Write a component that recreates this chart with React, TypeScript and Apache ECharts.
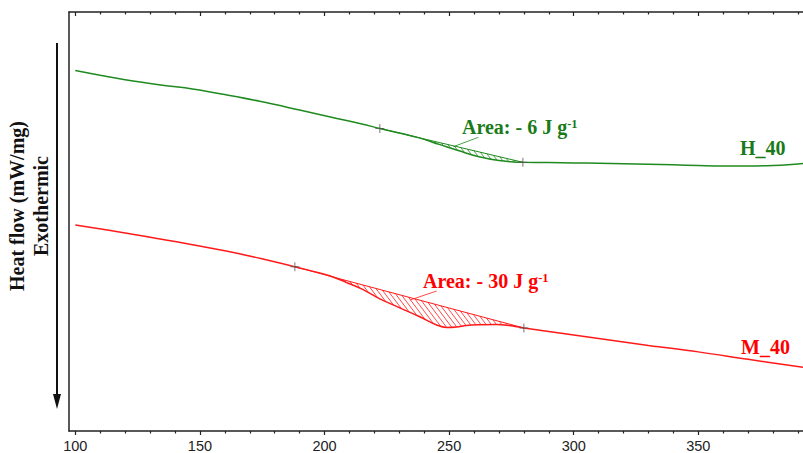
import React, { useEffect, useRef } from 'react';
import * as echarts from 'echarts';

// Temperature (°C) and heat flow (arbitrary units)
const H40_T = [100, 110, 120, 135, 147, 160, 174, 190, 205, 215, 222.2, 230, 238, 246, 254, 262, 270, 276, 279.6, 290, 300, 310, 320, 330, 340, 350, 360, 370, 380, 386, 392];
const H40_V = [3.623, 3.575, 3.53, 3.475, 3.437, 3.38, 3.313, 3.225, 3.14, 3.085, 3.04, 2.995, 2.945, 2.88, 2.815, 2.755, 2.717, 2.703, 2.7, 2.697, 2.694, 2.69, 2.685, 2.68, 2.674, 2.668, 2.663, 2.662, 2.668, 2.675, 2.687];
const M40_T = [100, 120, 140, 160, 174, 188.1, 202, 209, 215.5, 222, 230, 238, 245, 249, 253, 257, 262, 269, 275.5, 280, 310, 330, 350, 370, 392];
const M40_V = [2.07, 1.99, 1.905, 1.81, 1.735, 1.65, 1.56, 1.49, 1.42, 1.33, 1.24, 1.15, 1.065, 1.04, 1.045, 1.06, 1.067, 1.07, 1.055, 1.035, 0.93, 0.86, 0.795, 0.72, 0.64];

// Integration limits (baseline end points)
const H40_LIMITS_T = [222.2, 279.6];
const H40_LIMITS_V = [3.04, 2.7];
const M40_LIMITS_T = [188.1, 280];
const M40_LIMITS_V = [1.65, 1.035];

const MAJOR_TICKS = [100, 150, 200, 250, 300, 350];
const MINOR_TICKS = [110, 120, 130, 140, 160, 170, 180, 190, 210, 220, 230, 240, 260, 270, 280, 290, 310, 320, 330, 340, 360, 370, 380, 390];

const GREEN = '#1f8a1f';
const GREEN_TEXT = '#1a7a1a';
const RED = '#ff1a1a';
const RED_TEXT = '#ff0000';

const zip = (a: number[], b: number[]) => a.map((x, i) => [x, b[i]]);

const CROSS = 'path://M4.45,0H5.55V4.45H10V5.55H5.55V10H4.45V5.55H0V4.45H4.45Z';

function hatchRender(curveT: number[], curveV: number[], limT: number[], limV: number[], color: string) {
  return (params: any, api: any) => {
    const b0 = api.coord([limT[0], limV[0]]);
    const b1 = api.coord([limT[1], limV[1]]);
    const pts: number[][] = [];
    for (let i = 0; i < curveT.length; i++) {
      if (curveT[i] >= limT[0] - 1e-6 && curveT[i] <= limT[1] + 1e-6) pts.push(api.coord([curveT[i], curveV[i]]));
    }
    const curveY = (x: number) => {
      if (x <= pts[0][0]) return pts[0][1];
      for (let i = 1; i < pts.length; i++) {
        if (x <= pts[i][0]) {
          const f = (x - pts[i - 1][0]) / (pts[i][0] - pts[i - 1][0]);
          return pts[i - 1][1] + f * (pts[i][1] - pts[i - 1][1]);
        }
      }
      return pts[pts.length - 1][1];
    };
    const baseY = (x: number) => b0[1] + ((x - b0[0]) / (b1[0] - b0[0])) * (b1[1] - b0[1]);
    const children: any[] = [];
    const a = 0.75;
    for (let x = b0[0] + 3; x < b1[0]; x += 6.5) {
      const y0 = baseY(x);
      if (curveY(x) <= y0 + 0.3) continue;
      let t = 0;
      while (t < 80) {
        const xx = x + a * t;
        if (xx >= b1[0]) break;
        if (y0 + t >= curveY(xx)) break;
        t += 0.25;
      }
      if (t < 1) continue;
      children.push({
        type: 'line',
        shape: { x1: x, y1: y0, x2: x + a * t, y2: y0 + t },
        style: { stroke: color, lineWidth: 0.8 },
      });
    }
    return { type: 'group', children };
  };
}

const SERIF = '"Liberation Serif", "Times New Roman", serif';

export default function App() {
  const ref = useRef<HTMLDivElement>(null);
  useEffect(() => {
    if (!ref.current) return;
    const chart = echarts.init(ref.current, undefined, { renderer: 'svg' });
    const xMin = 97.47;
    const xMax = 392;
    const axisLineStyle = { color: '#222', width: 1.5 };
    const option: any = {
      animation: false,
      backgroundColor: '#ffffff',
      grid: { left: 69, right: 0, top: 12, bottom: 20 },
      xAxis: [
        {
          type: 'value', position: 'bottom', min: xMin, max: xMax,
          axisLine: { show: true, lineStyle: axisLineStyle },
          axisTick: { show: true, length: 4, customValues: MAJOR_TICKS, lineStyle: { color: '#222', width: 1.2 } },
          axisLabel: { show: true, customValues: MAJOR_TICKS, margin: 7, fontSize: 14.5, color: '#222', fontFamily: 'Liberation Sans, Arial, sans-serif' },
          splitLine: { show: false },
        },
        {
          type: 'value', position: 'bottom', min: xMin, max: xMax,
          axisLine: { show: false },
          axisTick: { show: true, length: 2.5, customValues: MINOR_TICKS, lineStyle: { color: '#222', width: 1.2 } },
          axisLabel: { show: false },
          splitLine: { show: false },
        },
        {
          type: 'value', position: 'top', min: xMin, max: xMax,
          axisLine: { show: true, lineStyle: axisLineStyle },
          axisTick: { show: true, inside: true, length: 4, customValues: MAJOR_TICKS, lineStyle: { color: '#222', width: 1.2 } },
          axisLabel: { show: false },
          splitLine: { show: false },
        },
        {
          type: 'value', position: 'top', min: xMin, max: xMax,
          axisLine: { show: false },
          axisTick: { show: true, inside: true, length: 2.5, customValues: MINOR_TICKS, lineStyle: { color: '#222', width: 1.2 } },
          axisLabel: { show: false },
          splitLine: { show: false },
        },
      ],
      yAxis: {
        type: 'value', min: 0, max: 4.21,
        axisLine: { show: true, lineStyle: axisLineStyle },
        axisTick: { show: false },
        axisLabel: { show: false },
        splitLine: { show: false },
      },
      series: [
        {
          name: 'H_40', type: 'line', data: zip(H40_T, H40_V), showSymbol: false, smooth: 0.4,
          lineStyle: { color: GREEN, width: 1.5 }, z: 3,
        },
        {
          name: 'M_40', type: 'line', data: zip(M40_T, M40_V), showSymbol: false, smooth: 0.4,
          lineStyle: { color: RED, width: 1.5 }, z: 3,
        },
        {
          name: 'H_40 baseline', type: 'line', data: zip(H40_LIMITS_T, H40_LIMITS_V), showSymbol: false,
          lineStyle: { color: GREEN, width: 1 }, z: 2,
        },
        {
          name: 'M_40 baseline', type: 'line', data: zip(M40_LIMITS_T, M40_LIMITS_V), showSymbol: false,
          lineStyle: { color: RED, width: 1 }, z: 2,
        },
        {
          name: 'H_40 area', type: 'custom', data: [[H40_LIMITS_T[0], H40_LIMITS_V[0]]],
          renderItem: hatchRender(H40_T, H40_V, H40_LIMITS_T, H40_LIMITS_V, GREEN), z: 1,
        },
        {
          name: 'M_40 area', type: 'custom', data: [[M40_LIMITS_T[0], M40_LIMITS_V[0]]],
          renderItem: hatchRender(M40_T, M40_V, M40_LIMITS_T, M40_LIMITS_V, RED), z: 1,
        },
        {
          name: 'limits', type: 'scatter',
          data: [...zip(H40_LIMITS_T, H40_LIMITS_V), ...zip(M40_LIMITS_T, M40_LIMITS_V)],
          symbol: CROSS, symbolSize: 9, itemStyle: { color: '#555' }, z: 5,
        },
      ],
      graphic: [
        {
          type: 'text', x: 17, y: 206, rotation: Math.PI / 2,
          style: { text: 'Heat flow (mW/mg)', fill: '#111', font: 'bold 20px ' + SERIF, textAlign: 'center', textVerticalAlign: 'middle' },
        },
        {
          type: 'text', x: 40.5, y: 206, rotation: Math.PI / 2,
          style: { text: 'Exothermic', fill: '#111', font: 'bold 20px ' + SERIF, textAlign: 'center', textVerticalAlign: 'middle' },
        },
        { type: 'line', shape: { x1: 57, y1: 43, x2: 57, y2: 398 }, style: { stroke: '#111', lineWidth: 2 } },
        { type: 'polygon', shape: { points: [[53, 394], [61, 394], [57, 409]] }, style: { fill: '#111' } },
        {
          type: 'text', x: 462, y: 127,
          style: {
            text: '{a|Area: - 6 J g}{s|-1}', textVerticalAlign: 'middle', textAlign: 'left',
            rich: {
              a: { fontSize: 20, fontWeight: 'bold', fontFamily: SERIF, fill: GREEN_TEXT, color: GREEN_TEXT },
              s: { fontSize: 12.5, fontWeight: 'bold', fontFamily: SERIF, fill: GREEN_TEXT, color: GREEN_TEXT, verticalAlign: 'top' },
            },
          },
        },
        { type: 'line', shape: { x1: 478.3, y1: 137.3, x2: 453.3, y2: 146.7 }, style: { stroke: GREEN, lineWidth: 0.8 } },
        {
          type: 'text', x: 423, y: 281,
          style: {
            text: '{a|Area: - 30 J g}{s|-1}', textVerticalAlign: 'middle', textAlign: 'left',
            rich: {
              a: { fontSize: 20, fontWeight: 'bold', fontFamily: SERIF, fill: RED_TEXT, color: RED_TEXT },
              s: { fontSize: 12.5, fontWeight: 'bold', fontFamily: SERIF, fill: RED_TEXT, color: RED_TEXT, verticalAlign: 'top' },
            },
          },
        },
        { type: 'line', shape: { x1: 436.7, y1: 291, x2: 410, y2: 300 }, style: { stroke: RED, lineWidth: 0.8 } },
        {
          type: 'text', x: 740, y: 148,
          style: { text: 'H_40', fill: GREEN_TEXT, font: 'bold 20px ' + SERIF, textAlign: 'left', textVerticalAlign: 'middle' },
        },
        {
          type: 'text', x: 741, y: 347,
          style: { text: 'M_40', fill: RED_TEXT, font: 'bold 20px ' + SERIF, textAlign: 'left', textVerticalAlign: 'middle' },
        },
      ],
    };
    chart.setOption(option);
    return () => chart.dispose();
  }, []);
  return <div ref={ref} style={{ position: 'absolute', left: 0, top: 0, width: 803, height: 453 }} />;
}
